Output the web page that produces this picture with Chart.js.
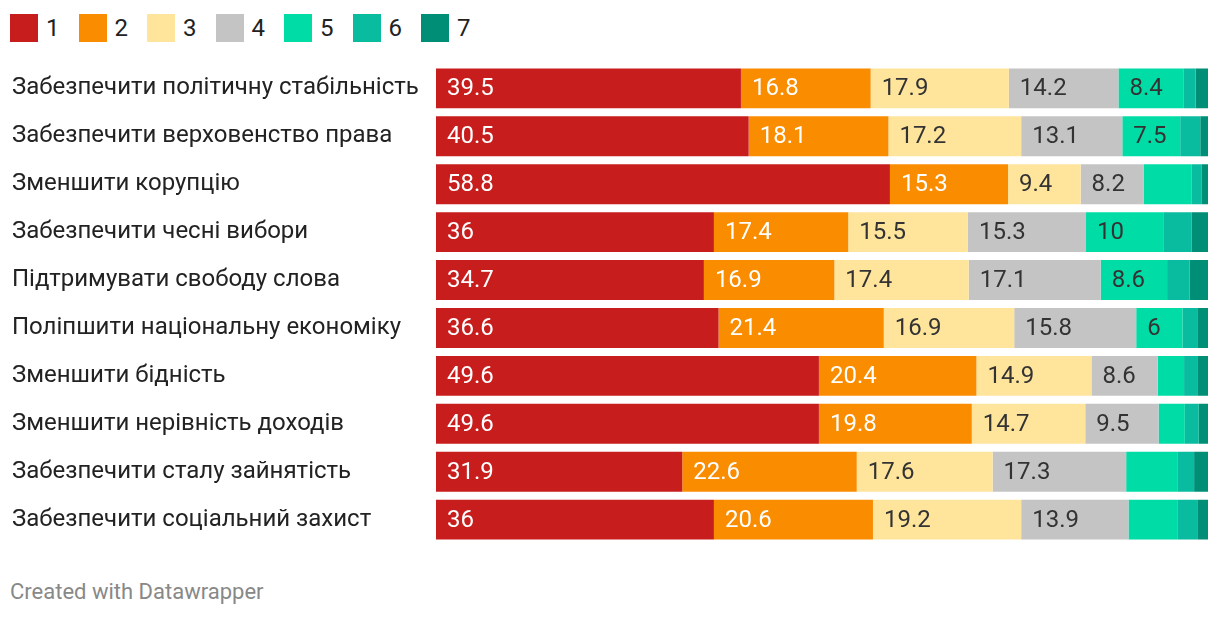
<!DOCTYPE html>
<html>
<head>
<meta charset="utf-8">
<script src="https://cdn.jsdelivr.net/npm/chart.js@4"></script>
<style>
  body { margin:0; background:#fff; width:1220px; height:618px; position:relative; overflow:hidden; font-family:Roboto, sans-serif; }
  #legend { position:absolute; left:10px; top:14px; display:flex; }
  .item { display:flex; align-items:center; margin-right:19px; font-size:24px; color:#222; height:28px; }
  .sw { width:28px; height:28px; margin-right:8px; }
  #wrap { position:absolute; left:0; top:47px; width:1220px; height:514px; }
  #foot { position:absolute; left:10px; top:579px; font-size:22px; color:#888; }
</style>
</head>
<body>
<div id="legend"></div>
<div id="wrap"><canvas id="chart"></canvas></div>
<div id="foot">Created with Datawrapper</div>
<script>
// categories (rows)
const categories = [
  "Забезпечити політичну стабільність",
  "Забезпечити верховенство права",
  "Зменшити корупцію",
  "Забезпечити чесні вибори",
  "Підтримувати свободу слова",
  "Поліпшити національну економіку",
  "Зменшити бідність",
  "Зменшити нерівність доходів",
  "Забезпечити сталу зайнятість",
  "Забезпечити соціальний захист"
];
// series 1..7
const s1 = [39.5, 40.5, 58.8, 36, 34.7, 36.6, 49.6, 49.6, 31.9, 36];
const s2 = [16.8, 18.1, 15.3, 17.4, 16.9, 21.4, 20.4, 19.8, 22.6, 20.6];
const s3 = [17.9, 17.2, 9.4, 15.5, 17.4, 16.9, 14.9, 14.7, 17.6, 19.2];
const s4 = [14.2, 13.1, 8.2, 15.3, 17.1, 15.8, 8.6, 9.5, 17.3, 13.9];
const s5 = [8.4, 7.5, 6.2, 10, 8.6, 6, 3.4, 3.4, 6.7, 6.4];
const s6 = [1.6, 2.6, 1.3, 3.7, 2.9, 2.0, 1.8, 1.8, 2.1, 2.6];
const s7 = [1.6, 1.0, 0.8, 2.1, 2.4, 1.3, 1.3, 1.2, 1.8, 1.3];
const seriesNames = ["1", "2", "3", "4", "5", "6", "7"];

const colors = ["#c71e1d", "#fa8c00", "#ffe59c", "#c4c4c4", "#00dca6", "#09bb9f", "#008f76"];
const textColors = ["#fff", "#fff", "#333", "#333", "#333", "#333", "#fff"];
const allSeries = [s1, s2, s3, s4, s5, s6, s7];

// html legend
const legend = document.getElementById("legend");
seriesNames.forEach((name, i) => {
  const it = document.createElement("div");
  it.className = "item";
  it.innerHTML = `<div class="sw" style="background:${colors[i]}"></div><span>${name}</span>`;
  legend.appendChild(it);
});

// values inside bars, only when they fit
const valueLabels = {
  id: "valueLabels",
  afterDatasetsDraw(chart) {
    const ctx = chart.ctx;
    ctx.save();
    ctx.font = "24px Roboto";
    ctx.textBaseline = "middle";
    ctx.textAlign = "left";
    chart.data.datasets.forEach((ds, di) => {
      const meta = chart.getDatasetMeta(di);
      meta.data.forEach((bar, i) => {
        const txt = String(ds.data[i]);
        const w = Math.abs(bar.x - bar.base);
        const tw = ctx.measureText(txt).width;
        if (tw + 20 > w) return;
        ctx.fillStyle = textColors[di];
        ctx.fillText(txt, Math.min(bar.x, bar.base) + 11, bar.y + 1);
      });
    });
    ctx.restore();
  }
};

const chart = new Chart(document.getElementById("chart"), {
  type: "bar",
  data: {
    labels: categories,
    datasets: allSeries.map((d, i) => ({
      label: seriesNames[i],
      data: d,
      backgroundColor: colors[i],
      borderWidth: 0,
      barPercentage: 1.0,
      categoryPercentage: 40 / 48
    }))
  },
  options: {
    indexAxis: "y",
    responsive: true,
    maintainAspectRatio: false,
    animation: false,
    layout: { padding: { left: 12, right: 12, top: 0, bottom: 0 } },
    plugins: { legend: { display: false }, tooltip: { enabled: false } },
    scales: {
      x: { stacked: true, min: 0, max: 100, display: false },
      y: {
        stacked: true,
        grid: { display: false },
        border: { display: false },
        ticks: {
          crossAlign: "far",
          color: "#222",
          font: { family: "Roboto", size: 24 }
        },
        afterFit(axis) { axis.width = 424; }
      }
    }
  },
  plugins: [valueLabels]
});
</script>
</body>
</html>
